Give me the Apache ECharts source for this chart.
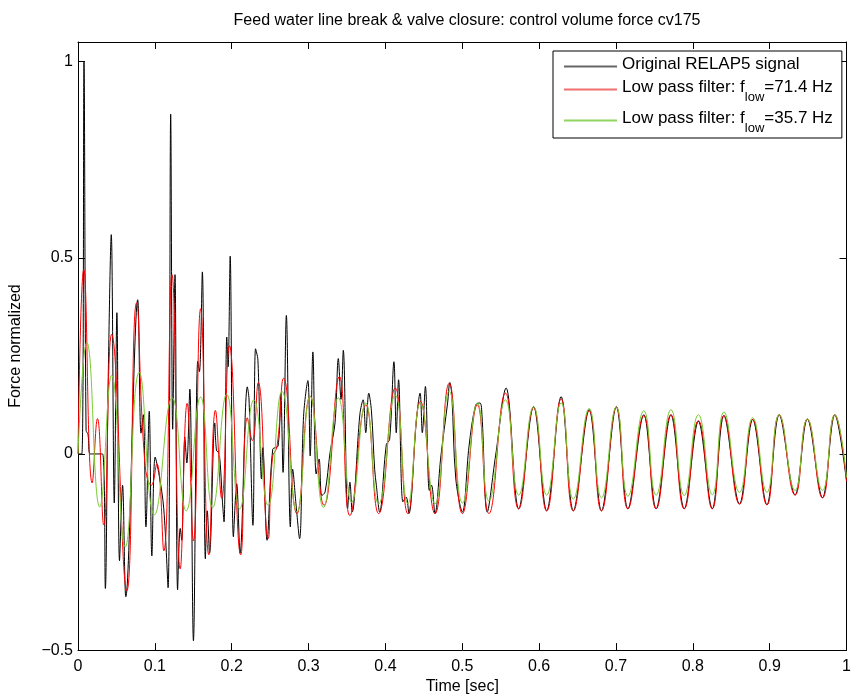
<!DOCTYPE html>
<html>
<head>
<meta charset="utf-8">
<script src="https://cdn.jsdelivr.net/npm/echarts@6/dist/echarts.min.js"></script>
<style>html,body{margin:0;padding:0;background:#fff}#c{width:854px;height:700px}</style>
</head>
<body>
<div id="c"></div>
<script>
// Time [sec], normalized force pairs
const originalSignal = [[0,0],[0.005,0],[0.0078,1.0],[0.0105,0.06],[0.013,0.05],[0.016,0.0],[0.032,0.0],[0.0356,-0.343],[0.039,0.154],[0.0433,0.559],[0.0472,-0.125],[0.0506,0.36],[0.054,-0.272],[0.058,-0.08],[0.0622,-0.364],[0.0777,0.393],[0.082,0.053],[0.085,0.10],[0.0884,-0.186],[0.0927,0.109],[0.0961,-0.26],[0.1004,-0.008],[0.1056,-0.054],[0.1116,-0.14],[0.1172,-0.341],[0.1206,0.866],[0.1232,0.063],[0.1262,0.457],[0.1296,-0.346],[0.133,-0.19],[0.135,-0.22],[0.139,0.043],[0.1416,-0.023],[0.1455,0.165],[0.1502,-0.476],[0.1558,0.236],[0.158,0.21],[0.1618,0.464],[0.1657,-0.267],[0.1682,-0.145],[0.1712,-0.253],[0.178,0.079],[0.1803,0.008],[0.1837,0.004],[0.188,-0.123],[0.19,-0.173],[0.1936,0.298],[0.1953,0.222],[0.198,0.504],[0.2022,-0.211],[0.2065,-0.076],[0.2109,-0.253],[0.2203,0.171],[0.2225,0.14],[0.2276,-0.182],[0.231,0.268],[0.2341,0.239],[0.2388,-0.064],[0.2405,0.016],[0.246,-0.22],[0.2534,0.012],[0.2603,0.02],[0.2638,0.155],[0.2668,-0.047],[0.2711,0.353],[0.2763,-0.186],[0.2793,-0.039],[0.2836,-0.127],[0.2883,-0.216],[0.2935,0.096],[0.2991,0.187],[0.3021,-0.005],[0.3056,0.26],[0.3099,-0.051],[0.3137,-0.013],[0.3172,-0.106],[0.3215,-0.097],[0.328,0.004],[0.3344,0.079],[0.3387,0.243],[0.3422,0.139],[0.3452,0.264],[0.3508,-0.14],[0.3538,-0.072],[0.3568,-0.148],[0.3667,0.1],[0.371,0.138],[0.3744,0.054],[0.3783,0.155],[0.3818,0.11],[0.386,-0.039],[0.3882,-0.08],[0.3925,-0.148],[0.4012,0.024],[0.4055,0.037],[0.4111,0.235],[0.4141,0.054],[0.4171,0.189],[0.4227,-0.122],[0.427,-0.11],[0.4305,-0.152],[0.44,0.079],[0.4451,0.155],[0.448,0.054],[0.452,0.172],[0.4571,-0.093],[0.46,-0.08],[0.4645,-0.152],[0.4722,-0.005],[0.4809,0.13],[0.4838,0.182],[0.4864,0.15],[0.4916,-0.064],[0.5002,-0.148],[0.5088,0.02],[0.5174,0.125],[0.523,0.13],[0.5256,0.10],[0.5325,-0.148],[0.5433,-0.005],[0.557,0.168],[0.5734,-0.14],[0.5928,0.121],[0.6098,-0.145],[0.6286,0.146],[0.6445,-0.145],[0.6651,0.113],[0.6811,-0.145],[0.7005,0.121],[0.7155,-0.14],[0.7362,0.10],[0.7522,-0.14],[0.7715,0.10],[0.7888,-0.14],[0.8072,0.083],[0.8253,-0.14],[0.8404,0.098],[0.8607,-0.128],[0.8779,0.088],[0.8964,-0.13],[0.9123,0.10],[0.933,-0.105],[0.949,0.089],[0.9687,-0.112],[0.9847,0.10],[1.0,-0.07]];

const lowPass714 = [[0,0],[0.0075,0.47],[0.0185,-0.074],[0.0253,0.09],[0.0335,-0.181],[0.0438,0.305],[0.0635,-0.349],[0.0762,0.385],[0.0871,-0.025],[0.0955,-0.08],[0.1025,-0.025],[0.1116,-0.247],[0.1223,0.457],[0.133,-0.293],[0.142,0.129],[0.1502,-0.222],[0.1595,0.37],[0.1702,-0.257],[0.1788,0.111],[0.187,-0.113],[0.197,0.276],[0.2117,-0.257],[0.2203,0.092],[0.2268,0.034],[0.2345,0.182],[0.2474,-0.216],[0.253,-0.01],[0.259,0.02],[0.2676,0.193],[0.2849,-0.152],[0.3021,0.147],[0.3202,-0.131],[0.3401,0.197],[0.3538,-0.157],[0.3744,0.125],[0.3912,-0.152],[0.4128,0.168],[0.4292,-0.152],[0.4455,0.134],[0.4645,-0.152],[0.483,0.18],[0.5002,-0.152],[0.5196,0.125],[0.5347,-0.152],[0.5562,0.155],[0.5734,-0.14],[0.5928,0.118],[0.6098,-0.145],[0.6286,0.14],[0.6445,-0.145],[0.6651,0.11],[0.6811,-0.145],[0.7005,0.118],[0.7155,-0.14],[0.7362,0.098],[0.7522,-0.14],[0.7715,0.1],[0.7888,-0.14],[0.8072,0.085],[0.8253,-0.14],[0.8404,0.098],[0.8607,-0.128],[0.8779,0.088],[0.8964,-0.13],[0.9123,0.1],[0.933,-0.105],[0.949,0.089],[0.9687,-0.112],[0.9847,0.1],[1.0,-0.07]];

const lowPass357 = [[0,0],[0.0115,0.284],[0.0283,-0.135],[0.0438,0.2],[0.0614,-0.237],[0.0797,0.208],[0.0995,-0.155],[0.1225,0.143],[0.1408,-0.145],[0.1595,0.145],[0.1751,-0.137],[0.1935,0.152],[0.2104,-0.14],[0.2289,0.138],[0.2474,-0.131],[0.2655,0.159],[0.2849,-0.148],[0.3021,0.147],[0.3193,-0.136],[0.3387,0.143],[0.3561,-0.123],[0.3744,0.13],[0.3912,-0.127],[0.4128,0.15],[0.4292,-0.127],[0.4455,0.13],[0.4645,-0.127],[0.483,0.16],[0.5002,-0.125],[0.5196,0.13],[0.5347,-0.12],[0.5562,0.138],[0.5734,-0.105],[0.5928,0.12],[0.6098,-0.105],[0.6286,0.13],[0.6445,-0.115],[0.6651,0.116],[0.6811,-0.112],[0.7005,0.12],[0.7155,-0.108],[0.7362,0.11],[0.7522,-0.105],[0.7715,0.113],[0.7888,-0.106],[0.8072,0.1],[0.8253,-0.104],[0.8404,0.107],[0.8607,-0.098],[0.8779,0.092],[0.8964,-0.098],[0.9123,0.1],[0.933,-0.093],[0.949,0.089],[0.9687,-0.093],[0.9847,0.1],[1.0,-0.06]];

const seriesNames = ['Original RELAP5 signal', 'Low pass filter 71.4', 'Low pass filter 35.7'];
const seriesColors = ['#000000', '#ff0000', '#77cc33'];
const legendIconColors = ['#666666', '#f07070', '#90d460'];
const legendLabels = {
  'Original RELAP5 signal': '{n|Original RELAP5 signal}',
  'Low pass filter 71.4': '{n|Low pass filter: f}{s|low}{n|=71.4 Hz}',
  'Low pass filter 35.7': '{n|Low pass filter: f}{s|low}{n|=35.7 Hz}'
};
const xTicks = [0,0.1,0.2,0.3,0.4,0.5,0.6,0.7,0.8,0.9,1];
const yTicks = [-0.5,0,0.5,1];

const FONT = '"Liberation Sans", Arial, sans-serif';
const chart = echarts.init(document.getElementById('c'), null, {renderer: 'canvas'});

function fmtX(v){ const r = Math.round(v*10)/10; return xTicks.some(t => Math.abs(t-r)<1e-9 && Math.abs(v-r)<1e-6) ? String(r) : ''; }
function fmtY(v){ const t = yTicks.find(t => Math.abs(t-v)<1e-6); if (t===undefined) return ''; return t<0 ? '\u2212'+String(Math.abs(t)) : String(t); }

const axisCommon = {
  axisLine: {show: true, onZero: false, lineStyle: {color: '#000', width: 1}},
  axisTick: {show: true, inside: true, length: 7, lineStyle: {color: '#000', width: 1}},
  splitLine: {show: false}
};

const datasets = [originalSignal, lowPass714, lowPass357];
const smoothness = [0.35, 0.5, 0.5];

chart.setOption({
  animation: false,
  backgroundColor: '#fff',
  color: seriesColors,
  title: {
    text: 'Feed water line break & valve closure: control volume force cv175',
    left: 462, top: 8, textAlign: 'center',
    textStyle: {fontFamily: FONT, fontSize: 16, fontWeight: 'normal', color: '#000'}
  },
  grid: {left: 74, right: 4, top: 42, bottom: 46, containLabel: false},
  legend: {
    show: true,
    orient: 'vertical', left: 553, top: 51,
    padding: [5, 9, 3, 11],
    itemGap: 6, itemWidth: 53, itemHeight: 2,
    icon: 'rect',
    borderColor: '#000', borderWidth: 1, backgroundColor: '#fff',
    data: seriesNames.map((n, i) => ({
      name: n, icon: 'rect',
      itemStyle: {color: legendIconColors[i], borderWidth: 0},
      lineStyle: {color: legendIconColors[i], width: 1}
    })),
    formatter: function (n) { return legendLabels[n]; },
    textStyle: {
      fontFamily: FONT, fontSize: 17, color: '#000',
      rich: {
        n: {fontFamily: FONT, fontSize: 17, lineHeight: 21, verticalAlign: 'top', color: '#000'},
        s: {fontFamily: FONT, fontSize: 13, lineHeight: 14, verticalAlign: 'top', padding: [12,0,0,0], color: '#000'}
      }
    }
  },
  xAxis: [
    Object.assign({}, axisCommon, {
      type: 'value', min: 0, max: 1, interval: 0.1, position: 'bottom',
      axisLabel: {show: true, formatter: fmtX, fontFamily: FONT, fontSize: 16, color: '#000', margin: 8},
      name: 'Time [sec]', nameLocation: 'middle', nameGap: 28,
      nameTextStyle: {fontFamily: FONT, fontSize: 16, color: '#000'}
    }),
    Object.assign({}, axisCommon, {
      type: 'value', min: 0, max: 1, interval: 0.1, position: 'top',
      axisLabel: {show: false}
    })
  ],
  yAxis: [
    Object.assign({}, axisCommon, {
      type: 'value', min: -0.5, max: 1.05, interval: 0.5, position: 'left',
      axisLabel: {show: true, formatter: fmtY, fontFamily: FONT, fontSize: 16, color: '#000', margin: 5, showMaxLabel: false},
      name: 'Force normalized', nameLocation: 'middle', nameGap: 54,
      nameTextStyle: {fontFamily: FONT, fontSize: 16, color: '#000'}
    }),
    Object.assign({}, axisCommon, {
      type: 'value', min: -0.5, max: 1.05, interval: 0.5, position: 'right',
      axisLabel: {show: false}
    })
  ],
  series: seriesNames.map((n, i) => ({
    name: n, type: 'line', data: datasets[i], xAxisIndex: 0, yAxisIndex: 0,
    symbol: 'none', smooth: smoothness[i], color: seriesColors[i],
    lineStyle: {color: seriesColors[i], width: 1},
    itemStyle: {color: legendIconColors[i]}
  }))
});
</script>
</body>
</html>
